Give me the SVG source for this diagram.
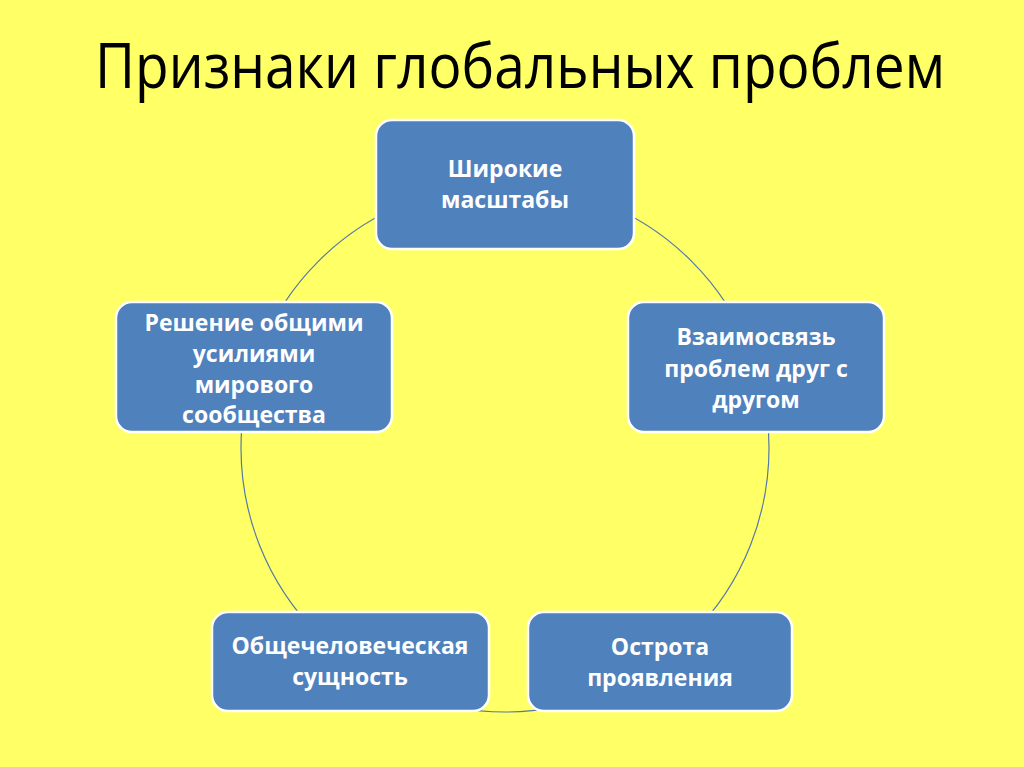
<svg xmlns="http://www.w3.org/2000/svg" width="1024" height="767" viewBox="0 0 1024 767">
<style>
.box{fill:#4f81bd;stroke:#ffffff;stroke-width:2.5}
.lbl{font-family:"Open Sans","Liberation Sans",sans-serif;font-weight:bold;font-size:23px;fill:#ffffff;text-anchor:middle}
.title{font-family:"Open Sans","Liberation Sans",sans-serif;font-size:55px;fill:#000000}
</style>
<rect x="0" y="0" width="1024" height="767" fill="#ffff66"/>
<text class="title" transform="translate(95,88) scale(1,1.13)" x="0" y="0" textLength="850" lengthAdjust="spacingAndGlyphs">Признаки  глобальных проблем</text>
<g id="connectors">
<circle cx="505" cy="448" r="264" fill="none" stroke="#5579a8" stroke-width="1.2"/>
</g>
<g id="n1">
<rect class="box" x="376" y="120" width="258" height="129" rx="16"/>
<text class="lbl" x="505" y="177">Широкие</text>
<text class="lbl" x="505" y="208">масштабы</text>
</g>
<g id="n2">
<rect class="box" x="628" y="302" width="256" height="130" rx="16"/>
<text class="lbl" x="756" y="345">Взаимосвязь</text>
<text class="lbl" x="756" y="377">проблем друг с</text>
<text class="lbl" x="756" y="408">другом</text>
</g>
<g id="n3">
<rect class="box" x="528" y="612" width="264" height="99" rx="16"/>
<text class="lbl" x="660" y="655">Острота</text>
<text class="lbl" x="660" y="686">проявления</text>
</g>
<g id="n4">
<rect class="box" x="212" y="612" width="277" height="99" rx="16"/>
<text class="lbl" x="350" y="654">Общечеловеческая</text>
<text class="lbl" x="350" y="685">сущность</text>
</g>
<g id="n5">
<rect class="box" x="116" y="302" width="276" height="130" rx="16"/>
<text class="lbl" x="254" y="331">Решение общими</text>
<text class="lbl" x="254" y="362">усилиями</text>
<text class="lbl" x="254" y="393">мирового</text>
<text class="lbl" x="254" y="423">сообщества</text>
</g>
</svg>
